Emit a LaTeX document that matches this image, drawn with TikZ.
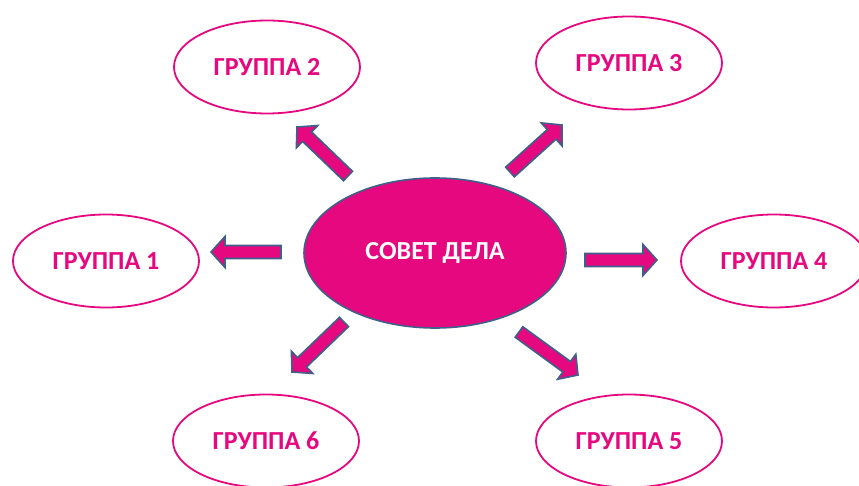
\documentclass[tikz,border=0pt]{standalone}
\usepackage{fontspec}
\setmainfont{Carlito}
\usepackage{tikz}
\usetikzlibrary{shapes.geometric, calc}
\definecolor{deep-magenta}{RGB}{229,8,127}
\definecolor{steel-blue}{RGB}{62,96,138}

% block arrow from tail #1 to tip #2
\newcommand{\blockarrow}[2]{%
\coordinate (hb) at ($(#2)!14pt!(#1)$);
\draw[arrowline] ($(#1)!6.5pt!90:(#2)$) -- ($(hb)!6.5pt!-90:(#1)$) -- ($(hb)!15.5pt!-90:(#1)$) -- (#2) -- ($(hb)!15.5pt!90:(#1)$) -- ($(hb)!6.5pt!90:(#1)$) -- ($(#1)!6.5pt!-90:(#2)$) -- cycle;}

\begin{document}
\begin{tikzpicture}[x=1pt, y=-1pt,
  group/.style={ellipse, draw=deep-magenta, line width=1.8pt, minimum width=186pt, minimum height=93pt, text=deep-magenta, font=\fontsize{26}{30}\selectfont\bfseries},
  council/.style={ellipse, draw=steel-blue, fill=deep-magenta, line width=1.6pt, minimum width=262pt, minimum height=150pt, text=white, font=\fontsize{26}{30}\selectfont\bfseries},
  arrowline/.style={draw=steel-blue, fill=deep-magenta, line width=1.6pt, line join=miter}]

\clip (0,0) rectangle (859,486);

\node[council] (sd) at (435,253) {СОВЕТ ДЕЛА};

\node[group] (g1) at (106,261) {ГРУППА 1};
\node[group] (g2) at (267,67) {ГРУППА 2};
\node[group] (g3) at (629,63) {ГРУППА 3};
\node[group] (g4) at (774,261) {ГРУППА 4};
\node[group] (g5) at (629,441) {ГРУППА 5};
\node[group] (g6) at (266,441) {ГРУППА 6};

\coordinate (s1) at (281,252);
\coordinate (e1) at (211,252);
\coordinate (s2) at (348,176);
\coordinate (e2) at (297,127);
\coordinate (s3) at (510,172);
\coordinate (e3) at (562,125);
\coordinate (s4) at (585,260);
\coordinate (e4) at (657,260);
\coordinate (s5) at (519,332);
\coordinate (e5) at (578,375);
\coordinate (s6) at (344,322);
\coordinate (e6) at (292,372);

\blockarrow{s1}{e1}
\blockarrow{s2}{e2}
\blockarrow{s3}{e3}
\blockarrow{s4}{e4}
\blockarrow{s5}{e5}
\blockarrow{s6}{e6}

\end{tikzpicture}
\end{document}
